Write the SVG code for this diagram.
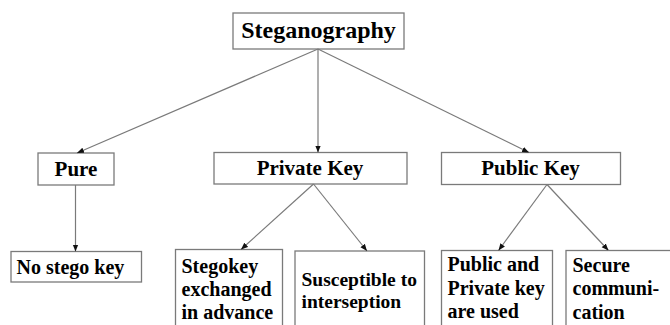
<svg xmlns="http://www.w3.org/2000/svg" width="670" height="325" viewBox="0 0 670 325">
<defs>
<marker id="ah" viewBox="0 0 10 10" refX="10" refY="5" markerWidth="7" markerHeight="7" markerUnits="userSpaceOnUse" orient="auto">
<path d="M0,1 L10,5 L0,9 z" fill="#111"/>
</marker>
<style>
.box{fill:#fff;stroke:#7a7a7a;stroke-width:1.3}
.t{font-family:"Liberation Serif","Times New Roman",serif;font-weight:bold;fill:#000}
.conn line{stroke:#7a7a7a;stroke-width:1.2;marker-end:url(#ah)}
</style>
</defs>
<rect width="670" height="325" fill="#fff"/>
<g id="steganography">
<rect class="box" x="233" y="13" width="171" height="36"/>
<text class="t" x="318.5" y="38" font-size="24" text-anchor="middle">Steganography</text>
</g>
<g id="pure">
<rect class="box" x="38" y="153" width="76" height="32"/>
<text class="t" x="76" y="176" font-size="21" text-anchor="middle">Pure</text>
</g>
<g id="private-key">
<rect class="box" x="214" y="152.5" width="193" height="31.5"/>
<text class="t" x="310" y="175" font-size="21" text-anchor="middle">Private Key</text>
</g>
<g id="public-key">
<rect class="box" x="441.5" y="152.5" width="179" height="32"/>
<text class="t" x="530.5" y="175" font-size="21" text-anchor="middle">Public Key</text>
</g>
<g id="no-stego-key">
<rect class="box" x="11" y="251.5" width="130.5" height="30.5"/>
<text class="t" x="16.5" y="273.5" font-size="20">No stego key</text>
</g>
<g id="stegokey-exchanged">
<rect class="box" x="175.5" y="249.5" width="107" height="90"/>
<text class="t" font-size="20"><tspan x="181.5" y="272.5">Stegokey</tspan><tspan x="181.5" y="295.5">exchanged</tspan><tspan x="181.5" y="318.5">in advance</tspan></text>
</g>
<g id="susceptible">
<rect class="box" x="295" y="251" width="129.5" height="90"/>
<text class="t" font-size="19.5"><tspan x="301.5" y="286">Susceptible to</tspan><tspan x="301.5" y="308">interseption</tspan></text>
</g>
<g id="public-private-used">
<rect class="box" x="441.5" y="250.5" width="111" height="90"/>
<text class="t" font-size="20"><tspan x="447.5" y="271">Public and</tspan><tspan x="447.5" y="294.5">Private key</tspan><tspan x="447.5" y="318">are used</tspan></text>
</g>
<g id="secure-communication">
<rect class="box" x="566" y="250.5" width="112" height="90"/>
<text class="t" font-size="20"><tspan x="572.5" y="271.5">Secure</tspan><tspan x="572.5" y="295">communi-</tspan><tspan x="572.5" y="318.5">cation</tspan></text>
</g>
<g id="connectors" class="conn">
<line x1="318" y1="49" x2="77" y2="153"/>
<line x1="318" y1="49" x2="318" y2="152.5"/>
<line x1="318" y1="49" x2="529" y2="152.5"/>
<line x1="75.5" y1="185" x2="75.5" y2="251.5"/>
<line x1="313.5" y1="184" x2="241" y2="249.5"/>
<line x1="313.5" y1="184" x2="367" y2="251"/>
<line x1="547" y1="184.5" x2="498.5" y2="250.5"/>
<line x1="547" y1="184.5" x2="608.5" y2="250.5"/>
</g>
</svg>
